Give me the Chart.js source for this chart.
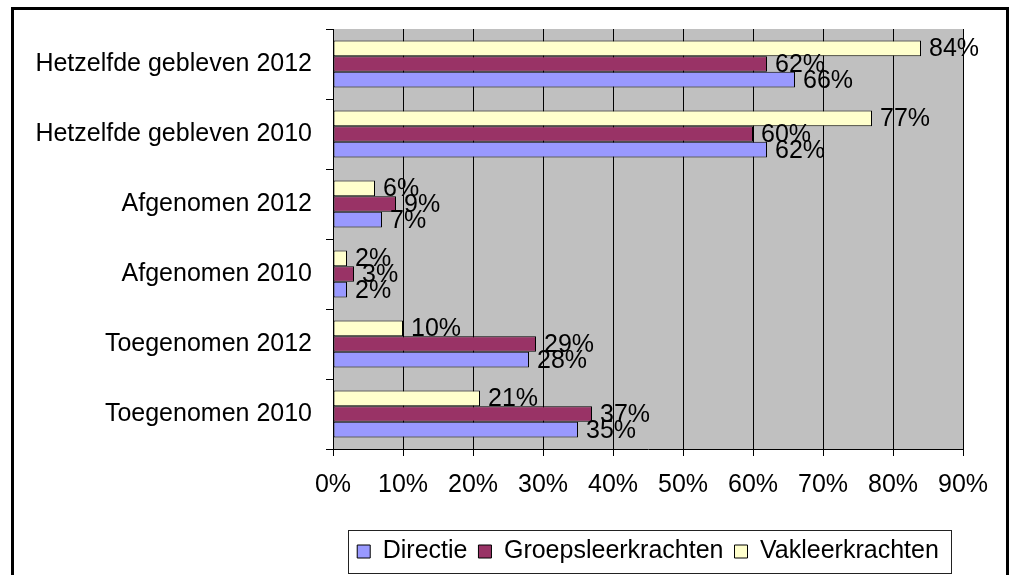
<!DOCTYPE html>
<html>
<head>
<meta charset="utf-8">
<script src="https://cdn.jsdelivr.net/npm/chart.js@4/dist/chart.umd.min.js"></script>
<style>
  html, body { margin: 0; padding: 0; background: #fff; }
  #wrap { width: 1012px; height: 575px; }
</style>
</head>
<body>
<div id="wrap"><canvas id="barChart" width="1012" height="575"></canvas></div>
<script>
// categories, top to bottom
const categories = ["Hetzelfde gebleven 2012", "Hetzelfde gebleven 2010", "Afgenomen 2012",
    "Afgenomen 2010", "Toegenomen 2012", "Toegenomen 2010"];
const directie = [66, 62, 7, 2, 28, 35];
const groepsleerkrachten = [62, 60, 9, 3, 29, 37];
const vakleerkrachten = [84, 77, 6, 2, 10, 21];
const xTicks = [0, 10, 20, 30, 40, 50, 60, 70, 80, 90];

const FONT = { family: "'Liberation Sans', Arial, sans-serif", size: 25 };

// grey plot area + outer frame
const frame = {
    id: 'frame',
    beforeDraw(chart) {
        let ctx = chart.ctx, a = chart.chartArea;
        ctx.save();
        ctx.fillStyle = "#C0C0C0";
        ctx.fillRect(a.left, a.top, a.right - a.left, a.bottom - a.top);
        ctx.strokeStyle = "#000";
        ctx.lineWidth = 3;
        ctx.strokeRect(12.5, 8.5, 995, 620);
        ctx.restore();
    },
    afterDraw(chart) {
        // box round the legend
        let lg = chart.legend, hb = lg.legendHitBoxes;
        if (!hb || !hb.length) return;
        let left = Math.min(...hb.map(h => h.left)) - 9;
        let right = Math.max(...hb.map(h => h.left + h.width)) + 12;
        let ctx = chart.ctx;
        ctx.save();
        ctx.strokeStyle = "#222";
        ctx.lineWidth = 1;
        ctx.strokeRect(Math.round(left) + 0.5, Math.round(lg.top) + 2.5, Math.round(right - left), Math.round(lg.bottom - lg.top) - 3);
        ctx.restore();
    }
};

// value labels right of the bars
const valueLabels = {
    id: 'valueLabels',
    afterDatasetsDraw(chart) {
        let ctx = chart.ctx;
        ctx.save();
        ctx.font = FONT.size + "px " + FONT.family;
        ctx.fillStyle = "#000";
        ctx.textAlign = "left";
        ctx.textBaseline = "middle";
        chart.data.datasets.forEach((ds, i) => {
            chart.getDatasetMeta(i).data.forEach((bar, j) => {
                ctx.fillText(ds.data[j] + "%", bar.x + 8, bar.y + 1);
            });
        });
        ctx.restore();
    }
};

let ctx = document.getElementById("barChart").getContext('2d');
new Chart(ctx, {
    type: 'bar',
    data: {
        labels: categories,
        datasets: [
            { label: "Vakleerkrachten", data: vakleerkrachten, backgroundColor: "#FFFFCC" },
            { label: "Groepsleerkrachten", data: groepsleerkrachten, backgroundColor: "#993366" },
            { label: "Directie", data: directie, backgroundColor: "#9999FF" }
        ].map(d => Object.assign(d, {
            borderColor: "#000", borderWidth: 1, borderSkipped: false,
            categoryPercentage: 0.67, barPercentage: 1
        }))
    },
    options: {
        indexAxis: 'y',
        responsive: false,
        animation: false,
        layout: { padding: { top: 29, right: 49, left: 0, bottom: 1 } },
        scales: {
            x: {
                min: 0, max: 90,
                afterFit(scale) { scale.height = 79; },
                afterBuildTicks(scale) { scale.ticks = xTicks.map(v => ({ value: v })); },
                ticks: {
                    color: "#000", font: FONT, padding: 14, maxRotation: 0,
                    callback: v => v + "%"
                },
                grid: { color: "#000", lineWidth: 1, tickLength: 7, drawOnChartArea: true },
                border: { color: "#000", width: 1 }
            },
            y: {
                afterFit(scale) { scale.width = 333; },
                ticks: { color: "#000", font: FONT, padding: 14, crossAlign: 'near' },
                grid: { color: "#000", offset: true, drawOnChartArea: false, tickLength: 7 },
                border: { color: "#000", width: 1 }
            }
        },
        plugins: {
            legend: {
                position: 'bottom',
                fullSize: false,
                reverse: true,
                labels: {
                    color: "#000", font: FONT, boxWidth: 13, boxHeight: 13,
                    padding: 11, useBorderRadius: false
                }
            },
            tooltip: { enabled: false }
        }
    },
    plugins: [frame, valueLabels]
});
</script>
</body>
</html>
